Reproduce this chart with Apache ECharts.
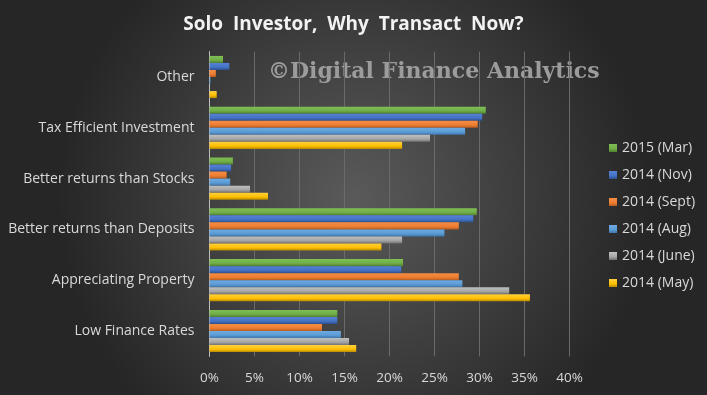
<!DOCTYPE html>
<html>
<head>
<meta charset="utf-8">
<script src="https://cdn.jsdelivr.net/npm/echarts@6/dist/echarts.min.js"></script>
<style>
html,body{margin:0;padding:0;background:#2a2a2a;}
#c{width:707px;height:395px;}
</style>
</head>
<body>
<div id="c"></div>
<script>
const categories = ['Low Finance Rates','Appreciating Property','Better returns than Deposits','Better returns than Stocks','Tax Efficient Investment','Other'];
const seriesNames = ['2015 (Mar)','2014 (Nov)','2014 (Sept)','2014 (Aug)','2014 (June)','2014 (May)'];
const mar2015  = [14.2, 21.5, 29.7, 2.6, 30.7, 1.5];
const nov2014  = [14.2, 21.3, 29.3, 2.4, 30.3, 2.2];
const sept2014 = [12.5, 27.7, 27.7, 1.9, 29.8, 0.7];
const aug2014  = [14.6, 28.1, 26.1, 2.3, 28.4, 0.1];
const june2014 = [15.5, 33.3, 21.4, 4.5, 24.5, 0];
const may2014  = [16.3, 35.6, 19.1, 6.5, 21.4, 0.8];
const xTicks = [0,5,10,15,20,25,30,35,40];

const values = [mar2015, nov2014, sept2014, aug2014, june2014, may2014];
const colors = [
  ['#7fbf55','#70ad47','#4f7f30'],
  ['#5582d4','#4472c4','#2c4f8f'],
  ['#f58d45','#ed7d31','#b85d1f'],
  ['#6eaae0','#5b9bd5','#3d76aa'],
  ['#c0c0c0','#a5a5a5','#707070'],
  ['#ffd040','#ffc000','#b88a00']
];
function grad(c){
  return {type:'linear',x:0,y:0,x2:0,y2:1,colorStops:[
    {offset:0,color:c[0]},{offset:0.6,color:c[1]},{offset:1,color:c[2]}]};
}
const chart = echarts.init(document.getElementById('c'), null, {renderer:'canvas'});
const font = '"Open Sans", Lato, sans-serif';
const series = seriesNames.map((n,i)=>({
  name:n, type:'bar', data:values[i],
  barCategoryGap:'17%', barGap:'0%',
  itemStyle:{color:grad(colors[i])},
  animation:false
}));
chart.setOption({
  backgroundColor:{type:'radial',x:0.5,y:0.5,r:0.75,colorStops:[
    {offset:0,color:'#5a5a5a'},{offset:1,color:'#262626'}]},
  animation:false,
  title:{text:'Solo  Investor,  Why  Transact  Now?',left:'center',top:10,
    textStyle:{color:'#f2f2f2',fontSize:19,fontWeight:'bold',fontFamily:font}},
  graphic:[{type:'text',left:268,top:61,z:0,
    style:{text:'©Digital Finance Analytics',fill:'#9c9c9c',font:'bold 22px "DejaVu Serif", serif'}}],
  legend:{orient:'vertical',left:604,top:136,itemWidth:8,itemHeight:8,itemGap:13,
    icon:'rect',data:seriesNames,
    textStyle:{color:'#d9d9d9',fontSize:14,fontFamily:font,lineHeight:14}},
  grid:{left:209.5,right:137.5,top:51.6,bottom:38.6,containLabel:false},
  xAxis:{type:'value',min:0,max:40,interval:5,
    axisLabel:{formatter:'{value}%',color:'#d9d9d9',fontSize:13.5,fontFamily:font,margin:15},
    axisLine:{show:false},axisTick:{show:false},
    splitLine:{lineStyle:{color:'#6a6a6a',width:1}}},
  yAxis:{type:'category',data:categories,
    axisLabel:{color:'#d9d9d9',fontSize:14,fontFamily:font,margin:15},
    axisLine:{show:true,lineStyle:{color:'#bfbfbf',width:1}},axisTick:{show:false}},
  series:series
});
</script>
</body>
</html>
